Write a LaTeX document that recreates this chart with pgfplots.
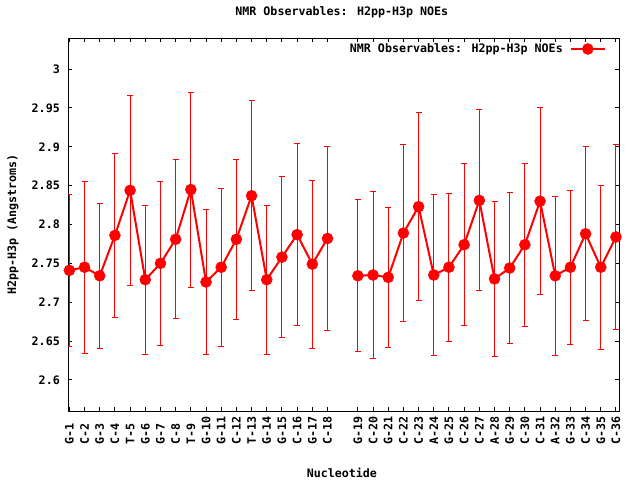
\documentclass[border=0pt]{standalone}
\usepackage{fontspec}
\setmainfont{DejaVu Sans Mono}
\usepackage{pgfplots}
\pgfplotsset{compat=1.18}
\usepackage{pgfplotstable}
\pgfplotstableread{
x y e
1 2.741 0.0975
2 2.745 0.1105
3 2.734 0.093
4 2.786 0.106
5 2.844 0.122
6 2.729 0.096
7 2.750 0.1055
8 2.781 0.1025
9 2.845 0.1255
10 2.726 0.0935
11 2.745 0.1015
12 2.781 0.103
13 2.837 0.1225
14 2.729 0.096
15 2.758 0.1035
16 2.787 0.117
17 2.749 0.108
18 2.782 0.1185
}\seriesA
\pgfplotstableread{
x y e
20 2.734 0.098
21 2.735 0.1075
22 2.732 0.0905
23 2.789 0.114
24 2.823 0.121
25 2.735 0.104
26 2.745 0.0955
27 2.774 0.104
28 2.831 0.1165
29 2.730 0.0995
30 2.744 0.0975
31 2.774 0.105
32 2.830 0.12
33 2.734 0.1025
34 2.745 0.099
35 2.788 0.112
36 2.745 0.1055
37 2.784 0.119
}\seriesB
\newcommand\gp{\fontsize{11.7}{13}\selectfont\bfseries}
\begin{document}
\begin{tikzpicture}
\useasboundingbox (0,0) rectangle (640bp,480bp);
\begin{axis}[
  at={(68bp,69bp)}, anchor=south west,
  scale only axis, width=551bp, height=373bp,
  xmin=0.91, xmax=37.2, ymin=2.56, ymax=3.04,
  font=\gp,
  /pgf/number format/assume math mode=true,
  axis line style={line width=1bp, black},
  tick style={line width=1bp, black},
  major tick length=4bp,
  tick align=inside,
  xtick={1,2,3,4,5,6,7,8,9,10,11,12,13,14,15,16,17,18,20,21,22,23,24,25,26,27,28,29,30,31,32,33,34,35,36,37},
  xticklabels={G-1,C-2,G-3,C-4,T-5,G-6,G-7,C-8,T-9,G-10,G-11,C-12,T-13,G-14,G-15,C-16,G-17,C-18,G-19,C-20,G-21,C-22,C-23,A-24,G-25,C-26,C-27,A-28,G-29,C-30,C-31,A-32,G-33,C-34,G-35,C-36},
  xticklabel style={rotate=90, anchor=west, inner sep=0pt, font=\gp},
  xticklabel shift=34bp,
  ytick={2.6,2.65,2.7,2.75,2.8,2.85,2.9,2.95,3},
  yticklabel style={anchor=east, inner sep=0pt, font=\gp, /pgf/number format/fixed, /pgf/number format/precision=2},
  yticklabel shift=8bp,
  title={NMR Observables: H2pp-H3p NOEs},
  title style={at={(axis description cs:0.497,1.0536)}, anchor=center, font=\gp},
  xlabel={Nucleotide},
  xlabel style={at={(axis description cs:0.497,-0.1654)}, anchor=center, font=\gp},
  ylabel={H2pp-H3p (Angstroms)},
  ylabel style={at={(axis description cs:-0.0998,0.5)}, anchor=center, font=\gp},
  legend plot pos=right,
  legend cell align=right,
  legend style={at={(axis description cs:0.9764,0.9705)}, anchor=east, draw=none, fill=none, font=\gp, inner sep=0pt, column sep=7bp, nodes={inner sep=0pt}},
  legend image code/.code={\draw[mark repeat=2,mark phase=2] plot coordinates {(0bp,0bp) (17bp,0bp) (34bp,0bp)};},
]
\addplot[red, line width=2bp, mark=*, mark size=5.5bp, mark options={solid, fill=red, draw=red, line width=0.5bp},
  error bars/.cd, y dir=both, y explicit,
  error bar style={line width=1bp, red},
  error mark options={rotate=90, mark size=3bp, line width=1bp, red}]
  table[x=x, y=y, y error=e] {\seriesA};
\addlegendentry{NMR Observables: H2pp-H3p NOEs}
\addplot[forget plot, red, line width=2bp, mark=*, mark size=5.5bp, mark options={solid, fill=red, draw=red, line width=0.5bp},
  error bars/.cd, y dir=both, y explicit,
  error bar style={line width=1bp, red},
  error mark options={rotate=90, mark size=3bp, line width=1bp, red}]
  table[x=x, y=y, y error=e] {\seriesB};
\end{axis}
\end{tikzpicture}
\end{document}
